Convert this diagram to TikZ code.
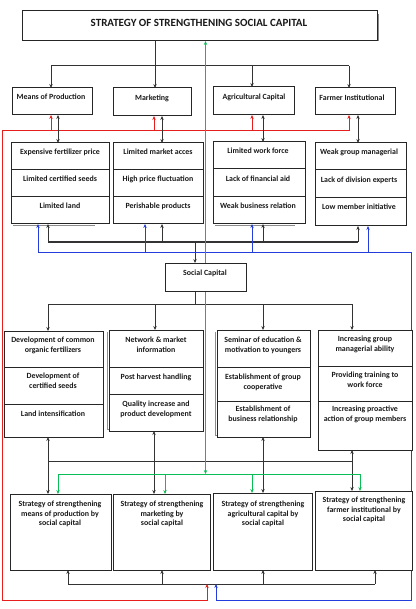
\documentclass[tikz,border=0pt]{standalone}
\usepackage{fontspec}
\setmainfont{Carlito}
\usetikzlibrary{arrows.meta,backgrounds}
\definecolor{myred}{RGB}{230,30,30}
\definecolor{myblue}{RGB}{35,60,220}
\definecolor{mygreen}{RGB}{10,190,85}
\newcommand\mkbox[5]{\node[bx,minimum width={(#4-#2)*1pt},minimum height={(#5-#3)*1pt}] (#1) at ({(#2+#4)/2},{(#3+#5)/2}) {};}
\begin{document}
\begin{tikzpicture}[x=1pt,y=-1pt,
  bx/.style={draw=black!85,line width=1pt,inner sep=0pt,outer sep=0pt,fill=white},
  txt/.style={font=\bfseries\fontsize{7.9}{9.8}\selectfont,align=center,inner sep=0pt,text=black!90},
  ttl/.style={font=\bfseries\fontsize{11}{13}\selectfont,inner sep=0pt,text=black!90},
  ln/.style={draw=black!80,line width=1pt},
  tip/.style={-{Stealth[length=4pt,width=3.4pt]}},
  arr/.style={ln,tip},
  darr/.style={ln,{Stealth[length=4pt,width=3.4pt]}-{Stealth[length=4pt,width=3.4pt]}},
  rln/.style={draw=myred,line width=1pt},
  bln/.style={draw=myblue,line width=1pt},
  gln/.style={draw=mygreen,line width=1pt},
  shd/.style={draw=black!45,line width=1.4pt}]
\useasboundingbox (0,0) rectangle (415,609);
% ---------- boxes ----------
\mkbox{T}{22}{11}{377}{41}
\node[ttl] (Tt) at (199,23) {STRATEGY OF STRENGTHENING SOCIAL CAPITAL};
\mkbox{MP}{12}{88}{92}{115}
\node[txt] (MPt) at (51,97) {Means of Production};
\mkbox{MK}{113}{88}{191}{116}
\node[txt] (MKt) at (152,98) {Marketing};
\mkbox{AC}{213}{87}{294}{115}
\node[txt] (ACt) at (254,97) {Agricultural Capital};
\mkbox{FI}{315}{88}{395}{115}
\node[txt] (FIt) at (352,98) {Farmer Institutional};
% row 2
\mkbox{A1}{11}{143}{109}{170}\mkbox{A2}{11}{170}{109}{197}\mkbox{A3}{11}{197}{109}{224}
\node[txt] (A1t) at (60,152) {Expensive fertilizer price};
\node[txt] (A2t) at (60,179) {Limited certified seeds};
\node[txt] (A3t) at (60,206) {Limited land};
\mkbox{B1}{113}{143}{203}{170}\mkbox{B2}{113}{170}{203}{197}\mkbox{B3}{113}{197}{203}{224}
\node[txt] (B1t) at (158,152) {Limited market acces};
\node[txt] (B2t) at (158,179) {High price fluctuation};
\node[txt] (B3t) at (158,206) {Perishable products};
\mkbox{C1}{213}{142}{305}{169}\mkbox{C2}{213}{169}{305}{197}\mkbox{C3}{213}{197}{305}{224}
\node[txt] (C1t) at (258,151) {Limited work force};
\node[txt] (C2t) at (258,179) {Lack of financial aid};
\node[txt] (C3t) at (258,206) {Weak business relation};
\mkbox{D1}{315}{143}{406}{170}\mkbox{D2}{315}{170}{406}{198}\mkbox{D3}{315}{198}{406}{226}
\node[txt] (D1t) at (359,152) {Weak group managerial};
\node[txt] (D2t) at (359,180) {Lack of division experts};
\node[txt] (D3t) at (359,207) {Low member initiative};
% social capital
\mkbox{SC}{165}{263}{246}{291}
\node[txt] (SCt) at (205,273) {Social Capital};
% row 3
\mkbox{E1}{4}{331}{103}{367}\mkbox{E2}{4}{367}{103}{404}\mkbox{E3}{4}{404}{103}{437}
\node[txt] (E1t) at (53,345) {Development of common\\organic fertilizers};
\node[txt] (E2t) at (53,381) {Development of\\certified seeds};
\node[txt] (E3t) at (53,414) {Land intensification};
\mkbox{F1}{109}{330}{203}{367}\mkbox{F2}{109}{367}{203}{394}\mkbox{F3}{109}{394}{203}{431}
\node[txt] (F1t) at (156,345) {Network \& market\\information};
\node[txt] (F2t) at (156,377) {Post harvest handling};
\node[txt] (F3t) at (156,409) {Quality increase and\\product development};
\mkbox{G1}{217}{330}{310}{367}\mkbox{G2}{217}{367}{310}{401}\mkbox{G3}{217}{401}{310}{437}
\node[txt] (G1t) at (263,345) {Seminar of education \&\\motivation to youngers};
\node[txt] (G2t) at (263,382) {Establishment of group\\cooperative};
\node[txt] (G3t) at (263,414) {Establishment of\\business relationship};
\mkbox{H1}{318}{330}{412}{366}\mkbox{H2}{318}{366}{412}{401}\mkbox{H3}{318}{401}{412}{450}
\node[txt] (H1t) at (365,344) {Increasing group\\managerial ability};
\node[txt] (H2t) at (365,380) {Providing training to\\work force};
\node[txt] (H3t) at (365,414) {Increasing proactive\\action of group members};
% row 4
\mkbox{I}{10}{494}{111}{570}
\node[txt] (It) at (60,514) {Strategy of strengthening\\means of production by\\social capital};
\mkbox{J}{113}{494}{210}{570}
\node[txt] (Jt) at (162,514) {Strategy of strengthening\\marketing by\\social capital};
\mkbox{K}{213}{493}{312}{570}
\node[txt] (Kt) at (263,514) {Strategy of strengthening\\agricultural capital by\\social capital};
\mkbox{L}{315}{491}{412}{570}
\node[txt] (Lt) at (364,510) {Strategy of strengthening\\farmer institutional by\\social capital};
% ---------- connectors ----------
\begin{pgfonlayer}{background}
% shadows
\draw[shd] ([xshift=1pt,yshift=-3pt]T.north east) -- ([xshift=1pt]T.south east);
\draw[shd] ([xshift=2pt,yshift=-1.5pt]A3.south west) -- ([xshift=-14pt,yshift=-1.5pt]A3.south east);
\draw[shd] ([xshift=2pt,yshift=-1.5pt]C3.south west) -- ([xshift=-10pt,yshift=-1.5pt]C3.south east);
\draw[shd] ([xshift=-1.5pt,yshift=-2pt]F1.north west) -- ([xshift=-1.5pt,yshift=1.5pt]F3.south west) -- ([xshift=-10pt,yshift=1.5pt]F3.south);
\draw[shd] ([xshift=-1.5pt,yshift=-2pt]G1.north west) -- ([xshift=-1.5pt,yshift=1.5pt]G3.south west) -- ([xshift=-4pt,yshift=1.5pt]G3.south east);
% top bus
\coordinate (t1) at (51,66); \coordinate (t2) at (155,66);
\coordinate (t3) at (252,66); \coordinate (t4) at (349,66);
\draw[ln] (t2 |- T.south) -- (t2);
\draw[ln] (t1) -- (t4);
\draw[arr] (t1) -- (t1 |- MP.north);
\draw[arr] (t2) -- (t2 |- MK.north);
\draw[arr] (t3) -- (t3 |- AC.north);
\draw[arr] (t4) -- (t4 |- FI.north);
% bottom bus (row 4)
\coordinate (f1) at (68,584); \coordinate (f2) at (162,584);
\coordinate (f3) at (263,584); \coordinate (f4) at (375,584);
\draw[ln] (f1) -- (f4);
\draw[arr] (f1) -- (f1 |- I.south);
\draw[arr] (f2) -- (f2 |- J.south);
\draw[arr] (f3) -- (f3 |- K.south);
\draw[arr] (f4) -- (f4 |- L.south);
% red
\coordinate (r0) at (2,131); \coordinate (r1) at (51,131); \coordinate (r2) at (154,131);
\coordinate (r3) at (252,131); \coordinate (r4) at (349,131);
\coordinate (rb) at (2,600); \coordinate (rc) at (207,600);
\draw[rln,tip] (r4) -- (r0) -- (rb) -- (rc) -- (rc |- f1);
\draw[rln,tip] (r1) -- (r1 |- MP.south);
\draw[rln,tip] (r2) -- (r2 |- MK.south);
\draw[rln,tip] (r3) -- (r3 |- AC.south);
\draw[rln,tip] (r4) -- (r4 |- FI.south);
% row1 <-> row2
\draw[darr] ([xshift=6pt]MP.south) -- ([xshift=6pt]MP.south |- A1.north);
\draw[darr] ([xshift=10pt]MK.south) -- ([xshift=10pt]MK.south |- B1.north);
\draw[darr] ([xshift=9.5pt]AC.south) -- ([xshift=9.5pt]AC.south |- C1.north);
\draw[darr] ([xshift=3pt]FI.south) -- ([xshift=3pt]FI.south |- D1.north);
% bus 2
\coordinate (c1) at (48,242); \coordinate (c2) at (162,242);
\coordinate (c3) at (263,242); \coordinate (c4) at (358,242); \coordinate (cj) at (195,242);
\draw[ln] (c1) -- (c4);
\draw[arr] (c1) -- (c1 |- A3.south);
\draw[arr] (c2) -- (c2 |- B3.south);
\draw[arr] (c3) -- (c3 |- C3.south);
\draw[arr] (c4) -- (c4 |- D3.south);
\draw[arr] (cj) -- (cj |- SC.north);
% blue
\coordinate (b1) at (38,252); \coordinate (b2) at (145,252); \coordinate (b3) at (252,252);
\coordinate (b4) at (368,252); \coordinate (b0) at (411,252);
\coordinate (bb) at (411,600); \coordinate (bc) at (216,600);
\draw[bln,tip] (b1) -- (b0) -- (bb) -- (bc) -- (bc |- f1);
\draw[bln,tip] (b1) -- (b1 |- A3.south);
\draw[bln,tip] (b2) -- (b2 |- B3.south);
\draw[bln,tip] (b3) -- (b3 |- C3.south);
\draw[bln,tip] (b4) -- (b4 |- D3.south);
% bus 3
\coordinate (d0) at (195,304); \coordinate (d1) at (48,304); \coordinate (d2) at (155,304);
\coordinate (d3) at (263,304); \coordinate (d4) at (352,304);
\draw[ln] (d0 |- SC.south) -- (d0);
\draw[ln] (d1) -- (d4);
\draw[arr] (d1) -- (d1 |- E1.north);
\draw[arr] (d2) -- (d2 |- F1.north);
\draw[arr] (d3) -- (d3 |- G1.north);
\draw[arr] (d4) -- (d4 |- H1.north);
% row3 <-> row4
\coordinate (e1) at (48,461); \coordinate (e2) at (154,461);
\coordinate (e3) at (263,461); \coordinate (e4) at (352,461);
\draw[ln] (e1) -- (e4);
\draw[darr] (e1 |- E3.south) -- (e1 |- I.north);
\draw[darr] (e2 |- F3.south) -- (e2 |- J.north);
\draw[darr] (e3 |- G3.south) -- (e3 |- K.north);
\draw[darr] (e4 |- H3.south) -- (e4 |- L.north);
% green
\coordinate (g0) at (205.5,474); \coordinate (g1) at (58,474); \coordinate (g2) at (165,474);
\coordinate (g3) at (252,474); \coordinate (g4) at (360,474);
\draw[gln,line width=1.2pt,{Stealth[length=4pt,width=3.4pt]}-{Stealth[length=4pt,width=3.4pt]}] (g0 |- T.south) -- (g0);
\draw[gln] (g1) -- (g4);
\draw[gln,tip] (g1) -- (g1 |- I.north);
\draw[gln,tip] (g2) -- (g2 |- J.north);
\draw[gln,tip] (g3) -- (g3 |- K.north);
\draw[gln,tip] (g4) -- (g4 |- L.north);
\end{pgfonlayer}
\end{tikzpicture}
\end{document}
